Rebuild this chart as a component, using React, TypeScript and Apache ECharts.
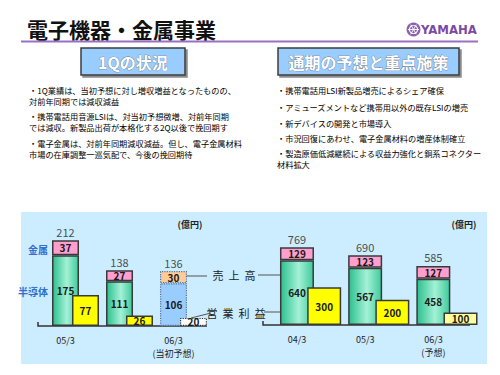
import React, { useEffect, useRef } from "react";
import * as echarts from "echarts";

const FONT = '"Noto Sans CJK JP", "Noto Sans", sans-serif';

// ---- data ----
const titleText = "電子機器・金属事業";
const leftHeading = "1Qの状況";
const rightHeading = "通期の予想と重点施策";

const leftBullets = [
  ["・1Q業績は、当初予想に対し増収増益となったものの、", "対前年同期では減収減益"],
  ["・携帯電話用音源LSIは、対当初予想微増、対前年同期", "では減収。新製品出荷が本格化する2Q以後で挽回期す"],
  ["・電子金属は、対前年同期減収減益。但し、電子金属材料", "市場の在庫調整一巡気配で、今後の挽回期待"],
];
const rightBullets = [
  ["・携帯電話用LSI新製品増売によるシェア確保"],
  ["・アミューズメントなど携帯用以外の既存LSIの増売"],
  ["・新デバイスの開発と市場導入"],
  ["・市況回復にあわせ、電子金属材料の増産体制確立"],
  ["・製造原価低減継続による収益力強化と銅系コネクター", "材料拡大"],
];

const leftCategories = ["05/3", "06/3", "06/3\n(当初予想)"];
const leftSemi = [175, 111, 106];
const leftMetal = [37, 27, 30];
const leftSalesTotal = [212, 138, 136];
const leftProfit = [77, 26, 20];

const rightCategories = ["04/3", "05/3", "06/3\n(予想)"];
const rightSemi = [640, 567, 458];
const rightMetal = [129, 123, 127];
const rightSalesTotal = [769, 690, 585];
const rightProfit = [300, 200, 100];

const unitLabel = "(億円)";
const salesCallout = "売  上  高";
const profitCallout = "営  業  利  益";
const metalLabel = "金属";
const semiLabel = "半導体";

// ---- styles ----
const GREEN = {
  type: "linear",
  x: 0,
  y: 0,
  x2: 1,
  y2: 0,
  colorStops: [
    { offset: 0, color: "#2cc08e" },
    { offset: 0.55, color: "#a4f1d6" },
    { offset: 1, color: "#3fcb9b" },
  ],
};
const PINK = "#ff9fd0";
const YELLOW = "#ffff00";
const PALE_YELLOW = "#ffff99";
const FC_BLUE = "#99ccff";
const FC_ORANGE = "#ffcc99";
const BORDER = "#3a3a3a";

const solidBorder = { borderColor: BORDER, borderWidth: 1.5, borderType: "solid" };
const dottedBorder = { borderColor: "#56709a", borderWidth: 1.2, borderType: "dotted" };

const innerLabel = {
  show: true,
  position: "inside",
  color: "#1a1a1a",
  fontSize: 10,
  fontWeight: "bold",
  fontFamily: FONT,
};

export default function App() {
  const ref = useRef<HTMLDivElement>(null);

  useEffect(() => {
    document.body.style.margin = "0";
    if (!ref.current) return;
    const chart = echarts.init(ref.current, undefined, { renderer: "svg" });

    const graphic: any[] = [];
    // chart panel background
    graphic.push({
      type: "rect",
      z: -10,
      shape: { x: 21, y: 212, width: 466, height: 152 },
      style: { fill: "#ccecff" },
    });
    // title
    graphic.push({
      type: "text",
      style: {
        text: titleText,
        x: 27,
        y: 29,
        fontSize: 21,
        fontWeight: "bold",
        fontFamily: FONT,
        fill: "#111",
        verticalAlign: "middle",
      },
    });
    graphic.push({
      type: "line",
      shape: { x1: 21, y1: 41.5, x2: 478, y2: 41.5 },
      style: { stroke: "#9b70c2", lineWidth: 2 },
    });
    // YAMAHA logo
    graphic.push({
      type: "circle",
      shape: { cx: 413.5, cy: 29.5, r: 7 },
      style: { fill: "#8d5fb3" },
    });
    graphic.push({
      type: "ring",
      shape: { cx: 413.5, cy: 29.5, r: 4.6, r0: 3.6 },
      style: { fill: "#ffffff" },
    });
    [0, 60, 120].forEach((deg) => {
      const a = (deg * Math.PI) / 180;
      graphic.push({
        type: "line",
        shape: {
          x1: 413.5 - Math.cos(a) * 5.5,
          y1: 29.5 - Math.sin(a) * 5.5,
          x2: 413.5 + Math.cos(a) * 5.5,
          y2: 29.5 + Math.sin(a) * 5.5,
        },
        style: { stroke: "#ffffff", lineWidth: 0.9 },
      });
    });
    graphic.push({
      type: "text",
      style: {
        text: "YAMAHA",
        x: 421,
        y: 29.5,
        fontSize: 13,
        fontWeight: "bold",
        fontFamily: '"DejaVu Sans Condensed", "DejaVu Sans", sans-serif',
        fill: "#7b4aa3",
        verticalAlign: "middle",
      },
    });

    // heading boxes
    const headingBox = (x: number, w: number, text: string) => {
      graphic.push({
        type: "rect",
        shape: { x, y: 48, width: w, height: 27 },
        style: {
          fill: "#99ccff",
          stroke: "#3c3c3c",
          lineWidth: 1.5,
          shadowColor: "rgba(0,0,0,0.45)",
          shadowOffsetX: 2,
          shadowOffsetY: 2,
          shadowBlur: 0,
        },
      });
      graphic.push({
        type: "text",
        style: {
          text,
          x: x + w / 2,
          y: 62,
          fontSize: 16,
          fontWeight: "bold",
          fontFamily: FONT,
          fill: "#ffffff",
          stroke: "#6a6a6a",
          lineWidth: 0.6,
          align: "center",
          verticalAlign: "middle",
        },
      });
    };
    headingBox(81, 104, leftHeading);
    headingBox(278, 181, rightHeading);

    // bullets
    const bulletText = (x: number, y: number, text: string) =>
      graphic.push({
        type: "text",
        style: {
          text,
          x,
          y,
          fontSize: 8.2,
          fontFamily: FONT,
          fill: "#000",
          verticalAlign: "middle",
        },
      });
    const leftY = [90, 116, 143];
    leftBullets.forEach((lines, i) =>
      lines.forEach((t, j) => bulletText(29, leftY[i] + j * 10.5, t))
    );
    const rightY = [90, 107, 123, 138, 153];
    rightBullets.forEach((lines, i) =>
      lines.forEach((t, j) => bulletText(277, rightY[i] + j * 10.5, t))
    );

    // baselines
    graphic.push({
      type: "polyline",
      shape: { points: [[38, 322], [38, 326], [207, 326]] },
      style: { stroke: "#333", lineWidth: 1.5, fill: "none" },
    });
    graphic.push({
      type: "polyline",
      shape: { points: [[263, 321], [263, 325], [470, 325]] },
      style: { stroke: "#333", lineWidth: 1.5, fill: "none" },
    });

    // unit labels
    const smallText = (x: number, y: number, text: string, extra: any = {}) =>
      graphic.push({
        type: "text",
        style: {
          text,
          x,
          y,
          fontSize: 9,
          fontWeight: "bold",
          fontFamily: FONT,
          fill: "#222",
          align: "center",
          verticalAlign: "middle",
          ...extra,
        },
      });
    smallText(190, 224, unitLabel);
    smallText(464, 224, unitLabel);
    smallText(48, 249, metalLabel, { align: "right", fill: "#2f6fd0", fontSize: 10 });
    smallText(48, 291, semiLabel, { align: "right", fill: "#2f6fd0", fontSize: 10 });

    // callouts
    smallText(234, 275, salesCallout, { fontSize: 11, fontWeight: "normal", fill: "#222" });
    smallText(236, 313, profitCallout, { fontSize: 11, fontWeight: "normal", fill: "#222" });
    const lineSeg = (x1: number, y1: number, x2: number, y2: number) =>
      graphic.push({
        type: "line",
        shape: { x1, y1, x2, y2 },
        style: { stroke: "#555", lineWidth: 1 },
      });
    lineSeg(185, 276, 207, 276);
    lineSeg(258, 275, 288, 275);
    lineSeg(191, 318, 211, 313);
    lineSeg(264, 312, 313, 312);

    const leftFc = 2;
    const rightFc = 2;

    const catAxis = (gridIndex: number, data: string[], pad: number) => ({
      type: "category",
      gridIndex,
      data,
      axisLine: { show: false },
      axisTick: { show: false },
      axisLabel: {
        margin: 8,
        fontSize: 9,
        lineHeight: 13,
        color: "#222",
        fontFamily: FONT,
        padding: [0, pad, 0, 0],
      },
    });

    const option: any = {
      animation: false,
      graphic,
      grid: [
        { left: 48.5, width: 162, top: 225, height: 101 },
        { left: 276.5, width: 204.5, top: 224, height: 101 },
      ],
      xAxis: [catAxis(0, leftCategories, 20), catAxis(1, rightCategories, 27)],
      yAxis: [
        { type: "value", gridIndex: 0, min: 0, max: 250, show: false },
        { type: "value", gridIndex: 1, min: 0, max: 1000, show: false },
        { type: "value", gridIndex: 1, min: 0, max: 800, show: false },
      ],
      series: [
        // left chart
        {
          type: "bar",
          name: "半導体",
          xAxisIndex: 0,
          yAxisIndex: 0,
          stack: "L",
          barWidth: 27,
          barGap: "-26%",
          data: leftSemi.map((v, i) => ({
            value: v,
            itemStyle:
              i === leftFc ? { color: FC_BLUE, ...dottedBorder } : { color: GREEN, ...solidBorder },
          })),
          label: innerLabel,
        },
        {
          type: "bar",
          name: "金属",
          xAxisIndex: 0,
          yAxisIndex: 0,
          stack: "L",
          barWidth: 27,
          barGap: "-26%",
          data: leftMetal.map((v, i) => ({
            value: v,
            itemStyle:
              i === leftFc ? { color: FC_ORANGE, ...dottedBorder } : { color: PINK, ...solidBorder },
          })),
          label: innerLabel,
        },
        {
          type: "bar",
          name: "営業利益",
          xAxisIndex: 0,
          yAxisIndex: 0,
          barWidth: 27,
          barGap: "-26%",
          data: leftProfit.map((v, i) => ({
            value: v,
            itemStyle:
              i === leftFc
                ? { color: "#ffffff", ...dottedBorder, borderColor: "#333" }
                : { color: YELLOW, ...solidBorder },
          })),
          label: innerLabel,
        },
        {
          type: "scatter",
          xAxisIndex: 0,
          yAxisIndex: 0,
          symbolSize: 0,
          data: leftSalesTotal,
          label: {
            show: true,
            position: "top",
            distance: 3,
            offset: [-10, 0],
            fontSize: 11,
            color: "#222",
            fontFamily: FONT,
          },
        },
        // right chart
        {
          type: "bar",
          name: "半導体",
          xAxisIndex: 1,
          yAxisIndex: 1,
          stack: "R",
          barWidth: 34,
          barGap: "-20%",
          data: rightSemi,
          itemStyle: { color: GREEN, ...solidBorder },
          label: innerLabel,
        },
        {
          type: "bar",
          name: "金属",
          xAxisIndex: 1,
          yAxisIndex: 1,
          stack: "R",
          barWidth: 34,
          barGap: "-20%",
          data: rightMetal,
          itemStyle: { color: PINK, ...solidBorder },
          label: innerLabel,
        },
        {
          type: "bar",
          name: "営業利益",
          xAxisIndex: 1,
          yAxisIndex: 2,
          barWidth: 34,
          barGap: "-20%",
          data: rightProfit.map((v, i) => ({
            value: v,
            itemStyle: { color: i === rightFc ? PALE_YELLOW : YELLOW, ...solidBorder },
          })),
          label: innerLabel,
        },
        {
          type: "scatter",
          xAxisIndex: 1,
          yAxisIndex: 1,
          symbolSize: 0,
          data: rightSalesTotal,
          label: {
            show: true,
            position: "top",
            distance: 3,
            offset: [-13.6, 0],
            fontSize: 11,
            color: "#222",
            fontFamily: FONT,
          },
        },
      ],
    };

    chart.setOption(option);
    return () => chart.dispose();
  }, []);

  return <div ref={ref} style={{ width: 500, height: 375, background: "#fff" }} />;
}
